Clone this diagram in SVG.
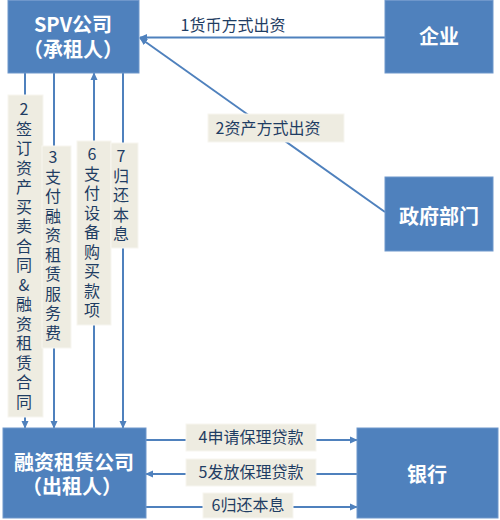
<svg xmlns="http://www.w3.org/2000/svg" width="500" height="520" viewBox="0 0 500 520">
<style>
.box{fill:#4F81BD;stroke:#6F97CB;stroke-width:1}
.bt{fill:#fff;font-family:'Noto Sans CJK SC',sans-serif;font-weight:bold;font-size:20px;text-anchor:middle}
.ln{stroke:#4F81BD;stroke-width:2;fill:none}
.lb{fill:#EEECE1;stroke:#F7F6F0;stroke-width:1}
.lt{fill:#1F3D63;font-family:'Noto Sans CJK SC',sans-serif;font-size:16px;text-anchor:middle}
.vt{fill:#1F3D63;font-family:'Noto Sans CJK SC',sans-serif;font-size:16px;writing-mode:vertical-rl;text-orientation:upright;letter-spacing:3.5px}
</style>
<defs>
<marker id="ah" viewBox="0 0 10 10" markerWidth="8" markerHeight="8" refX="9" refY="5" orient="auto-start-reverse" markerUnits="userSpaceOnUse">
<path d="M0,0.5 L10,5 L0,9.5 z" fill="#4F81BD"/>
</marker>
</defs>
<rect width="500" height="520" fill="#fff"/>
<g id="connectors">
<line class="ln" x1="385" y1="37.5" x2="140" y2="37.5" marker-end="url(#ah)"/>
<line class="ln" x1="385" y1="212" x2="140" y2="38" marker-end="url(#ah)"/>
<line class="ln" x1="25" y1="73" x2="25" y2="428" marker-end="url(#ah)"/>
<line class="ln" x1="54" y1="73" x2="54" y2="428" marker-end="url(#ah)"/>
<line class="ln" x1="94" y1="428" x2="94" y2="73" marker-end="url(#ah)"/>
<line class="ln" x1="123" y1="73" x2="123" y2="428" marker-end="url(#ah)"/>
<line class="ln" x1="146" y1="440" x2="357" y2="440" marker-end="url(#ah)"/>
<line class="ln" x1="357" y1="474" x2="146" y2="474" marker-end="url(#ah)"/>
<line class="ln" x1="146" y1="507" x2="357" y2="507" marker-end="url(#ah)"/>
<text class="lt" x="233" y="31">1货币方式出资</text>
<rect class="lb" x="208" y="114" width="136" height="28"/>
<text class="lt" x="268" y="134">2资产方式出资</text>
<rect class="lb" x="8" y="95" width="35" height="322"/>
<text class="vt" x="24" y="101">2签订资产买卖合同&amp;融资租赁合同</text>
<rect class="lb" x="42" y="146" width="29" height="202"/>
<text class="vt" x="53" y="149">3支付融资租赁服务费</text>
<rect class="lb" x="77" y="141" width="34" height="184"/>
<text class="vt" x="92" y="146">6支付设备购买款项</text>
<rect class="lb" x="111" y="143" width="27" height="105"/>
<text class="vt" x="121" y="148">7归还本息</text>
<rect class="lb" x="186" y="424" width="130" height="27"/>
<text class="lt" x="251" y="443">4申请保理贷款</text>
<rect class="lb" x="186" y="459" width="130" height="27"/>
<text class="lt" x="251" y="478">5发放保理贷款</text>
<rect class="lb" x="203" y="493" width="90" height="25"/>
<text class="lt" x="248" y="511">6归还本息</text>
</g>
<g id="spv">
<rect class="box" x="8" y="0.5" width="131" height="72.5"/>
<text class="bt" x="73" y="32">SPV公司</text>
<text class="bt" x="73" y="57">（承租人）</text>
</g>
<g id="qiye">
<rect class="box" x="385" y="0.5" width="108" height="72.5"/>
<text class="bt" x="439" y="44">企业</text>
</g>
<g id="zhengfu">
<rect class="box" x="385" y="177" width="108" height="74"/>
<text class="bt" x="439" y="224">政府部门</text>
</g>
<g id="zulin">
<rect class="box" x="3" y="428" width="143" height="90"/>
<text class="bt" x="74" y="470">融资租赁公司</text>
<text class="bt" x="72" y="494">（出租人）</text>
</g>
<g id="bank">
<rect class="box" x="357" y="428" width="141" height="90"/>
<text class="bt" x="427" y="482">银行</text>
</g>
</svg>
